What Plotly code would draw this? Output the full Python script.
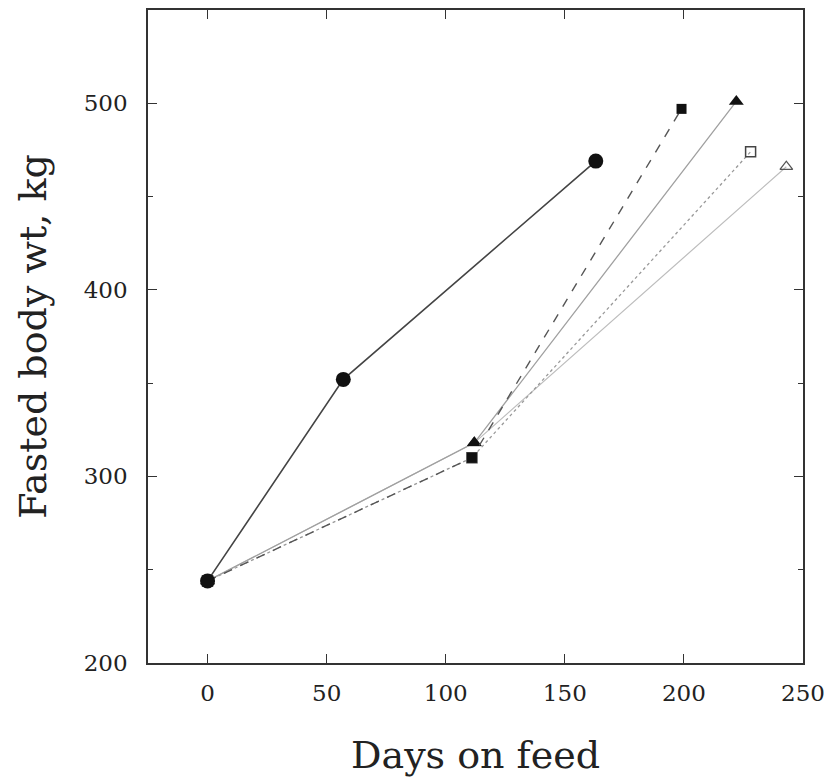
import plotly.graph_objects as go

# Data
days_circle = [0, 57, 163]
wt_circle = [244, 352, 469]

days_fsq = [0, 111, 199]
wt_fsq = [244, 310, 497]

days_ftri = [0, 112, 222]
wt_ftri = [244, 318, 501]

days_osq = [0, 111, 228]
wt_osq = [244, 310, 474]

days_otri = [0, 112, 243]
wt_otri = [244, 318, 466]

x_ticks = [0, 50, 100, 150, 200, 250]
y_ticks = [200, 300, 400, 500]

fig = go.Figure()

fig.add_trace(go.Scatter(x=days_otri, y=wt_otri, mode="lines+markers",
    line=dict(color="#bdbdbd", width=1.2),
    marker=dict(symbol="triangle-up-open", size=11, color="#555", line=dict(width=1.3, color="#555"))))
fig.add_trace(go.Scatter(x=days_osq, y=wt_osq, mode="lines+markers",
    line=dict(color="#999999", width=1.3, dash="dot"),
    marker=dict(symbol="square-open", size=10, color="#444", line=dict(width=1.5, color="#444"))))
fig.add_trace(go.Scatter(x=days_ftri, y=wt_ftri, mode="lines+markers",
    line=dict(color="#a0a0a0", width=1.3),
    marker=dict(symbol="triangle-up", size=13, color="#111")))
fig.add_trace(go.Scatter(x=days_fsq, y=wt_fsq, mode="lines+markers",
    line=dict(color="#555555", width=1.4, dash="dash"),
    marker=dict(symbol="square", size=10, color="#111")))
fig.add_trace(go.Scatter(x=days_circle, y=wt_circle, mode="lines+markers",
    line=dict(color="#444444", width=1.6),
    marker=dict(symbol="circle", size=15, color="#111")))

font_family = "DejaVu Serif"

fig.update_layout(
    width=825, height=777,
    margin=dict(l=148, r=22, t=10, b=114),
    paper_bgcolor="white", plot_bgcolor="white",
    showlegend=False,
    font=dict(family=font_family, color="#222"),
)

fig.update_xaxes(
    range=[-25, 250], tickvals=x_ticks, ticktext=[str(v) for v in x_ticks],
    ticks="inside", ticklen=9, tickwidth=1.3, tickcolor="#333",
    showline=True, linecolor="#333", linewidth=1.5, mirror="ticks",
    showgrid=False, zeroline=False, automargin=False,
    tickfont=dict(size=23, family=font_family, color="#222"),
    ticklabelstandoff=9,
    title=dict(text="Days on feed", font=dict(size=38, family=font_family, color="#222"), standoff=36),
)
fig.update_yaxes(
    range=[200, 550], tickvals=y_ticks, ticktext=[str(v) for v in y_ticks],
    ticks="inside", ticklen=9, tickwidth=1.3, tickcolor="#333",
    showline=True, linecolor="#333", linewidth=1.5, mirror="ticks",
    showgrid=False, zeroline=False, automargin=False,
    tickfont=dict(size=23, family=font_family, color="#222"),
    ticklabelstandoff=14,
    minor=dict(tickvals=[250, 350, 450], ticks="inside", ticklen=5, tickwidth=1.2, tickcolor="#333"),
    title=dict(text="Fasted body wt, kg", font=dict(size=38, family=font_family, color="#222"), standoff=25),
)

fig.write_html("out.html")
